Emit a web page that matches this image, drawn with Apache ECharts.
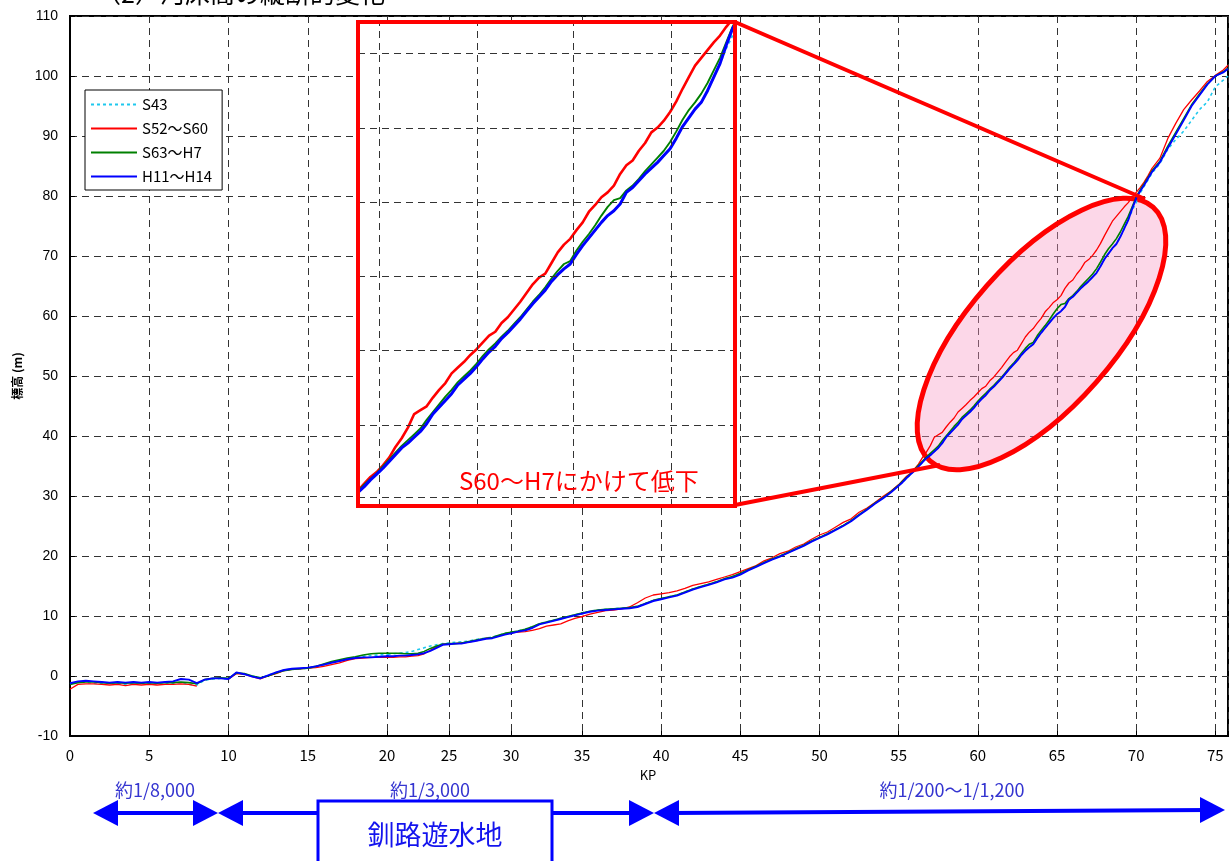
<!DOCTYPE html>
<html><head><meta charset="utf-8">
<script src="https://cdn.jsdelivr.net/npm/echarts@6/dist/echarts.min.js"></script>
<style>html,body{margin:0;padding:0;background:#fff}#c{width:1232px;height:861px}</style>
</head><body><div id="c"></div>
<script>
// ---------------- data ----------------
const kp = [
 0,0.5,1,1.5,2,2.5,3,3.5,4,4.5,5,5.5,6,6.5,7,7.5,8,8.5,9,9.5,
 10,10.5,11,11.5,12,12.5,13,13.5,14,14.5,15,15.5,16,16.5,17,17.5,18,18.5,19,19.5,20,
 20.5,21,21.5,22,22.5,23,23.5,24,24.5,25,25.5,26,26.5,27,27.5,28,28.5,29,29.5,30,
 30.5,31,31.5,32,32.5,33,33.5,34,34.5,35,35.5,36,36.5,37,37.5,38,38.5,39,39.5,40,
 40.5,41,41.5,42,42.5,43,43.5,44,44.5,45,45.5,46,46.5,47,47.5,48,48.5,49,49.5,50,
 50.5,51,51.5,52,52.5,53,53.5,54,54.5,55,
 55.25,55.5,55.75,56,56.25,56.5,56.75,57,57.25,57.5,57.75,58,58.25,58.5,58.75,59,
 59.25,59.5,59.75,60,60.25,60.5,60.75,61,61.25,61.5,61.75,62,62.25,62.5,62.75,63,
 63.25,63.5,63.75,64,64.25,64.5,64.75,65,65.25,65.5,65.75,66,66.25,66.5,66.75,67,
 67.25,67.5,67.75,68,68.25,68.5,68.75,69,69.25,69.5,69.75,70,70.25,70.5,70.75,71,
 71.5,72,72.5,73,73.5,74,74.5,75,75.5,75.8
];
const s43 = [
 -1.3,-1.0,-1.1,-1.2,-1.3,-1.2,-1.3,-1.4,-1.3,-1.2,-1.3,-1.4,-1.3,-1.2,-1.1,-1.4,-1.5,-0.7,-0.5,-0.4,
 -0.5,0.5,0.3,0.0,-0.3,0.1,0.6,1.0,1.2,1.2,1.3,1.5,1.8,2.2,2.5,2.9,3.1,3.3,3.4,3.5,3.6,
 3.7,3.8,3.9,4.1,4.4,4.7,5.0,5.2,5.4,5.5,5.6,5.7,5.8,6.0,6.2,6.3,6.5,6.8,7.1,7.3,
 7.5,7.8,8.2,8.7,9.0,9.3,9.6,9.9,10.2,10.5,10.8,11.0,11.1,11.2,11.3,11.4,11.6,12.1,12.6,12.9,
 13.2,13.5,14.0,14.5,14.9,15.3,15.7,16.2,16.6,17.1,17.7,18.3,18.9,19.5,20.0,20.6,21.2,21.8,22.5,23.1,
 23.7,24.4,25.1,25.9,26.9,27.8,28.8,29.7,30.7,31.8,
 32.3,33.0,33.6,34.2,34.9,35.6,36.3,36.8,37.4,38.0,38.8,39.8,40.5,41.2,41.9,42.8,
 43.4,44.0,44.7,45.5,46.2,46.8,47.6,48.2,48.9,49.6,50.4,51.2,51.9,52.6,53.5,54.2,
 54.8,55.3,56.3,57.2,58.0,58.8,59.6,60.3,60.8,61.5,62.7,63.2,63.9,64.6,65.2,65.8,
 66.5,67.2,68.3,69.5,70.4,71.3,72.0,73.2,74.6,76.0,77.6,78.9,80.5,81.6,82.7,83.8,
 85.4,87.8,89.4,90.8,92.6,94.4,95.7,98.2,99.3,100.0
];
const s52_s60 = [
 -2.2,-1.4,-1.3,-1.3,-1.4,-1.5,-1.4,-1.6,-1.4,-1.5,-1.4,-1.5,-1.4,-1.4,-1.3,-1.4,-1.7,null,null,null,
 -0.5,0.4,0.3,-0.1,-0.5,0.0,0.4,0.9,1.1,1.2,1.3,1.4,1.6,1.9,2.2,2.6,2.9,3.0,3.1,3.1,3.1,
 3.1,3.2,3.2,3.3,3.4,3.7,4.3,4.9,5.3,5.3,5.4,5.5,5.6,5.8,6.0,6.3,6.4,6.7,7.0,7.2,
 7.3,7.4,7.6,7.9,8.3,8.5,8.7,9.2,9.6,9.9,10.3,10.6,10.9,11.0,11.2,11.5,12.2,13.0,13.5,13.7,
 13.9,14.2,14.6,15.1,15.4,15.7,16.1,16.5,16.9,17.4,17.9,18.4,19.2,19.7,20.4,20.8,21.5,22.0,22.8,23.5,
 24.0,24.8,25.6,26.2,27.3,28.0,28.9,29.9,30.8,31.9,
 32.6,33.3,33.8,34.5,35.3,36.4,37.3,38.4,39.8,40.2,40.6,41.5,42.3,43.0,44.0,44.6,
 45.2,45.9,46.5,47.2,47.9,48.3,49.2,49.8,50.6,51.4,52.3,53.2,53.9,54.3,55.4,56.5,
 57.3,57.9,58.8,59.6,60.7,61.4,62.2,62.7,63.4,64.6,65.5,66.0,67.0,67.8,68.9,69.4,
 70.1,71.0,72.1,73.4,74.6,75.8,76.6,77.4,78.2,78.9,79.8,80.6,81.4,82.3,83.4,84.6,
 86.3,89.6,92.1,94.4,96.0,97.5,99.1,100.1,101.0,101.8
];
const s63_h7 = [
 -1.4,-1.1,-1.0,-1.0,-1.1,-1.2,-1.1,-1.2,-1.1,-1.2,-1.1,-1.2,-1.1,-1.1,-1.0,-1.1,-1.3,-0.6,-0.4,-0.3,
 -0.4,0.5,0.4,0.0,-0.3,0.0,0.5,0.9,1.1,1.2,1.3,1.6,2.0,2.4,2.7,3.0,3.2,3.5,3.7,3.8,3.8,
 3.8,3.8,3.7,3.7,3.8,4.1,4.6,5.0,5.3,5.4,5.4,5.5,5.7,5.9,6.1,6.3,6.4,6.8,7.1,7.3,
 7.5,7.8,8.2,8.7,9.0,9.3,9.6,9.9,10.2,10.5,10.8,11.0,11.1,11.2,11.3,11.4,11.6,12.1,12.6,12.9,
 13.2,13.5,14.0,14.5,14.9,15.3,15.7,16.2,16.6,17.1,17.7,18.3,18.9,19.5,20.0,20.6,21.2,21.8,22.5,23.1,
 23.7,24.4,25.1,25.9,26.9,27.8,28.8,29.7,30.7,31.8,
 32.5,33.1,33.7,34.4,35.1,35.8,36.5,37.1,37.7,38.3,39.2,40.0,40.8,41.6,42.3,43.1,
 43.7,44.3,45.0,45.8,46.5,47.1,47.8,48.4,49.1,49.8,50.6,51.4,52.1,52.9,53.8,54.6,
 55.3,55.6,56.7,57.6,58.4,59.3,60.3,61.2,61.9,62.1,62.9,63.4,64.1,64.9,65.6,66.3,
 67.0,67.9,69.0,70.2,71.2,72.0,72.9,74.0,75.3,76.6,78.2,79.8,81.0,82.0,83.1,84.2,
 85.8,88.3,90.6,92.9,95.2,97.0,98.7,100.0,100.7,101.3
];
const h11_h14 = [
 -1.2,-0.9,-0.8,-0.9,-1.0,-1.1,-1.0,-1.1,-1.0,-1.1,-1.0,-1.1,-1.0,-0.9,-0.5,-0.6,-1.2,-0.6,-0.4,-0.4,
 -0.5,0.6,0.3,-0.1,-0.4,0.1,0.6,1.0,1.2,1.3,1.4,1.6,1.9,2.2,2.5,2.8,3.0,3.1,3.1,3.2,3.3,
 3.3,3.4,3.4,3.5,3.6,3.8,4.2,4.7,5.2,5.3,5.4,5.4,5.6,5.8,6.0,6.2,6.3,6.6,6.9,7.1,
 7.4,7.6,8.0,8.6,8.9,9.2,9.5,9.8,10.1,10.4,10.7,10.9,11.0,11.1,11.2,11.3,11.5,12.0,12.5,12.8,
 13.1,13.4,13.9,14.4,14.8,15.2,15.6,16.1,16.4,16.9,17.6,18.2,18.8,19.4,19.9,20.5,21.1,21.7,22.4,23.0,
 23.6,24.3,25.0,25.8,26.8,27.7,28.7,29.6,30.6,31.7,
 32.3,33.0,33.6,34.2,34.9,35.6,36.3,36.8,37.4,38.0,38.8,39.8,40.5,41.2,41.9,42.8,
 43.4,44.0,44.7,45.5,46.2,46.8,47.6,48.2,48.9,49.6,50.4,51.2,51.9,52.6,53.5,54.2,
 54.8,55.3,56.3,57.2,58.0,58.8,59.6,60.3,60.8,61.5,62.7,63.2,63.9,64.6,65.2,65.8,
 66.5,67.2,68.3,69.5,70.4,71.3,72.0,73.2,74.6,76.0,77.9,79.6,80.8,81.8,82.9,84.0,
 85.6,88.0,90.3,92.6,95.0,96.8,98.6,100.0,100.6,101.2
];
const seriesNames = ['S43', 'S52～S60', 'S63～H7', 'H11～H14'];
// x axis is drawn piecewise (the reference's KP scale is compressed between 20 and 35)
const kpSegments = [[0, 20], [20, 30], [30, 35], [35, 75.8]];
const kpTickStep = 5;
const elevRange = [-10, 110];
const elevTickStep = 10;
// zoomed inset
const insetKP = [55, 70.1];
const insetElev = [30.3, 80.3];
const insetGridKP = [55.84, 59.77, 63.61, 67.54];
const insetGridElev = [77.1, 69.35, 61.7, 54.06, 46.4, 38.67, 31.23];
const titleText = '（2）河床高の縦断的変化';
const yName = '標高 (m)';
const xName = 'KP';
const insetNote = 'S60～H7にかけて低下';
const slopeNotes = ['約1/8,000', '約1/3,000', '約1/200～1/1,200'];
const areaName = '釧路遊水地';

// ---------------- layout / style ----------------
const PT = 16, PH = 720;
const segPx = [[70, 387], [387, 511], [511, 582], [582, 1228]];
const insetBox = {x: 358, y: 22, w: 377, h: 484};
const JP = '"Noto Sans CJK JP", sans-serif';
const NARROW = '"Liberation Sans Narrow", "Noto Sans CJK JP", sans-serif';
const lineStyles = [
  {color: '#1ec8ee', width: 1.6, type: [3, 3]},
  {color: '#ff0000', width: 1.3, type: 'solid'},
  {color: '#008000', width: 1.6, type: 'solid'},
  {color: '#0000ff', width: 1.9, type: 'solid'}
];
const insetWidths = [2, 2.6, 1.9, 3];
const dash = {type: [7, 5], color: '#333', width: 1};

const values = [s43, s52_s60, s63_h7, h11_h14];
const pairs = values.map(v => kp.map((k, i) => [k, v[i]]));

const grids = [{left: 70, top: PT, width: 1158, height: PH, show: true, borderColor: '#000', borderWidth: 2, backgroundColor: 'transparent'}];
const xAxes = [{gridIndex: 0, type: 'value', min: 0, max: 1, show: false}];
const yAxes = [{
  gridIndex: 0, type: 'value', min: elevRange[0], max: elevRange[1], interval: elevTickStep,
  axisLine: {show: true, onZero: false, lineStyle: {color: '#000', width: 2}},
  axisTick: {show: true, inside: true, length: 5, lineStyle: {color: '#000'}},
  axisLabel: {color: '#000', fontSize: 14, margin: 12, fontFamily: '"Liberation Sans", Arial, sans-serif'},
  splitLine: {show: true, lineStyle: dash},
  name: yName, nameLocation: 'middle', nameGap: 47,
  nameTextStyle: {color: '#000', fontSize: 12, fontWeight: 'bold', fontFamily: JP}
}];
const series = [];
kpSegments.forEach((seg, i) => {
  const gi = i + 1;
  grids.push({left: segPx[i][0], top: PT, width: segPx[i][1] - segPx[i][0], height: PH, show: false});
  xAxes.push({
    gridIndex: gi, type: 'value', min: seg[0], max: seg[1], interval: kpTickStep,
    axisLine: {show: true, onZero: false, lineStyle: {color: '#000', width: 2}},
    axisTick: {show: true, inside: true, length: 5, lineStyle: {color: '#000'}},
    axisLabel: {
      showMinLabel: i === 0, showMaxLabel: true, color: '#000', fontSize: 15, margin: 12, fontFamily: NARROW,
      formatter: v => (Math.abs(v / kpTickStep - Math.round(v / kpTickStep)) < 1e-9 ? String(v) : '')
    },
    splitLine: {show: true, lineStyle: dash}
  });
  yAxes.push({gridIndex: gi, type: 'value', min: elevRange[0], max: elevRange[1], show: false});
  seriesNames.forEach((nm, s) => {
    series.push({
      type: 'line', name: nm, xAxisIndex: gi, yAxisIndex: gi, data: pairs[s],
      symbol: 'none', showSymbol: false, clip: true, connectNulls: false,
      lineStyle: lineStyles[s], color: lineStyles[s].color, z: 2
    });
  });
});
// inset grid
const IG = grids.length;
grids.push({left: insetBox.x, top: insetBox.y, width: insetBox.w, height: insetBox.h, show: false});
xAxes.push({gridIndex: IG, type: 'value', min: insetKP[0], max: insetKP[1], show: false});
yAxes.push({gridIndex: IG, type: 'value', min: insetElev[0], max: insetElev[1], show: false});
series.push({
  type: 'line', xAxisIndex: IG, yAxisIndex: IG, data: [], z: 2, silent: true,
  markLine: {
    silent: true, symbol: 'none', label: {show: false}, lineStyle: dash, animation: false,
    data: insetGridKP.map(v => ({xAxis: v})).concat(insetGridElev.map(v => ({yAxis: v})))
  }
});
seriesNames.forEach((nm, s) => {
  series.push({
    type: 'line', name: nm, xAxisIndex: IG, yAxisIndex: IG, data: pairs[s],
    symbol: 'none', showSymbol: false, clip: true,
    lineStyle: Object.assign({}, lineStyles[s], {width: insetWidths[s]}), color: lineStyles[s].color, z: 3
  });
});

const blue = '#0000ff';
const red = '#ff0000';
function head(tipX, tipY, dir) {
  return {type: 'polygon', z: 30, shape: {points: [[tipX, tipY], [tipX - dir * 25, tipY - 13], [tipX - dir * 25, tipY + 13]]}, style: {fill: blue}};
}
function seg(x1, y1, x2, y2, color, w, z) {
  return {type: 'line', z: z, shape: {x1, y1, x2, y2}, style: {stroke: color, lineWidth: w}};
}
function txt(x, y, t, font, fill, align, z) {
  return {type: 'text', z: z || 30, x: x, y: y, style: {text: t, font: font, fill: fill, align: align || 'center', verticalAlign: 'middle'}};
}
const graphics = [
  {type: 'text', z: 30, x: 96, y: 6, style: {text: titleText, font: '25px ' + JP, fill: '#000', align: 'left', verticalAlign: 'bottom'}},
  {type: 'ellipse', z: 1, x: 1041.5, y: 334, rotation: 48.7 * Math.PI / 180,
   shape: {cx: 0, cy: 0, rx: 169, ry: 73}, style: {fill: 'rgba(248,150,195,0.38)', stroke: red, lineWidth: 5}},
  {type: 'rect', z: 1, shape: {x: insetBox.x, y: insetBox.y, width: insetBox.w, height: insetBox.h}, style: {fill: '#fff'}},
  {type: 'rect', z: 20, shape: {x: insetBox.x, y: insetBox.y, width: insetBox.w, height: insetBox.h}, style: {fill: 'none', stroke: red, lineWidth: 4}},
  seg(735, 22, 1145, 199, red, 4, 20),
  seg(735, 505, 940, 465, red, 4, 20),
  txt(459, 481, insetNote, '24px ' + JP, red, 'left', 21),
  txt(648, 775, xName, '13px ' + NARROW, '#000'),
  txt(155, 790, slopeNotes[0], '18px ' + JP, '#3535d0'),
  txt(430, 790, slopeNotes[1], '18px ' + JP, '#3535d0'),
  txt(952, 790, slopeNotes[2], '18px ' + JP, '#3535d0'),
  seg(110, 813, 200, 813, blue, 4, 29),
  head(93, 813, -1), head(218, 813, 1),
  seg(235, 813, 640, 813, blue, 4, 29),
  head(218, 813, -1), head(654, 813, 1),
  seg(670, 813, 1210, 810, blue, 4, 29),
  head(654, 813, -1), head(1225, 810, 1),
  {type: 'rect', z: 31, shape: {x: 318, y: 801, width: 234, height: 70}, style: {fill: '#fff', stroke: blue, lineWidth: 3}},
  txt(435, 835, areaName, '27px ' + JP, '#1414ee', 'center', 32)
];

const chart = echarts.init(document.getElementById('c'), null, {renderer: 'canvas'});
chart.setOption({
  animation: false,
  backgroundColor: '#fff',
  grid: grids, xAxis: xAxes, yAxis: yAxes, series: series,
  legend: {
    data: seriesNames, orient: 'vertical', left: 85, top: 90, itemWidth: 46, itemHeight: 14, itemGap: 9,
    padding: [7, 10, 6, 5], borderColor: '#000', borderWidth: 1, backgroundColor: '#fff', selectedMode: false,
    itemStyle: {opacity: 0},
    textStyle: {color: '#000', fontSize: 15, fontFamily: NARROW}, z: 25
  },
  graphic: {elements: graphics}
});
</script></body></html>
